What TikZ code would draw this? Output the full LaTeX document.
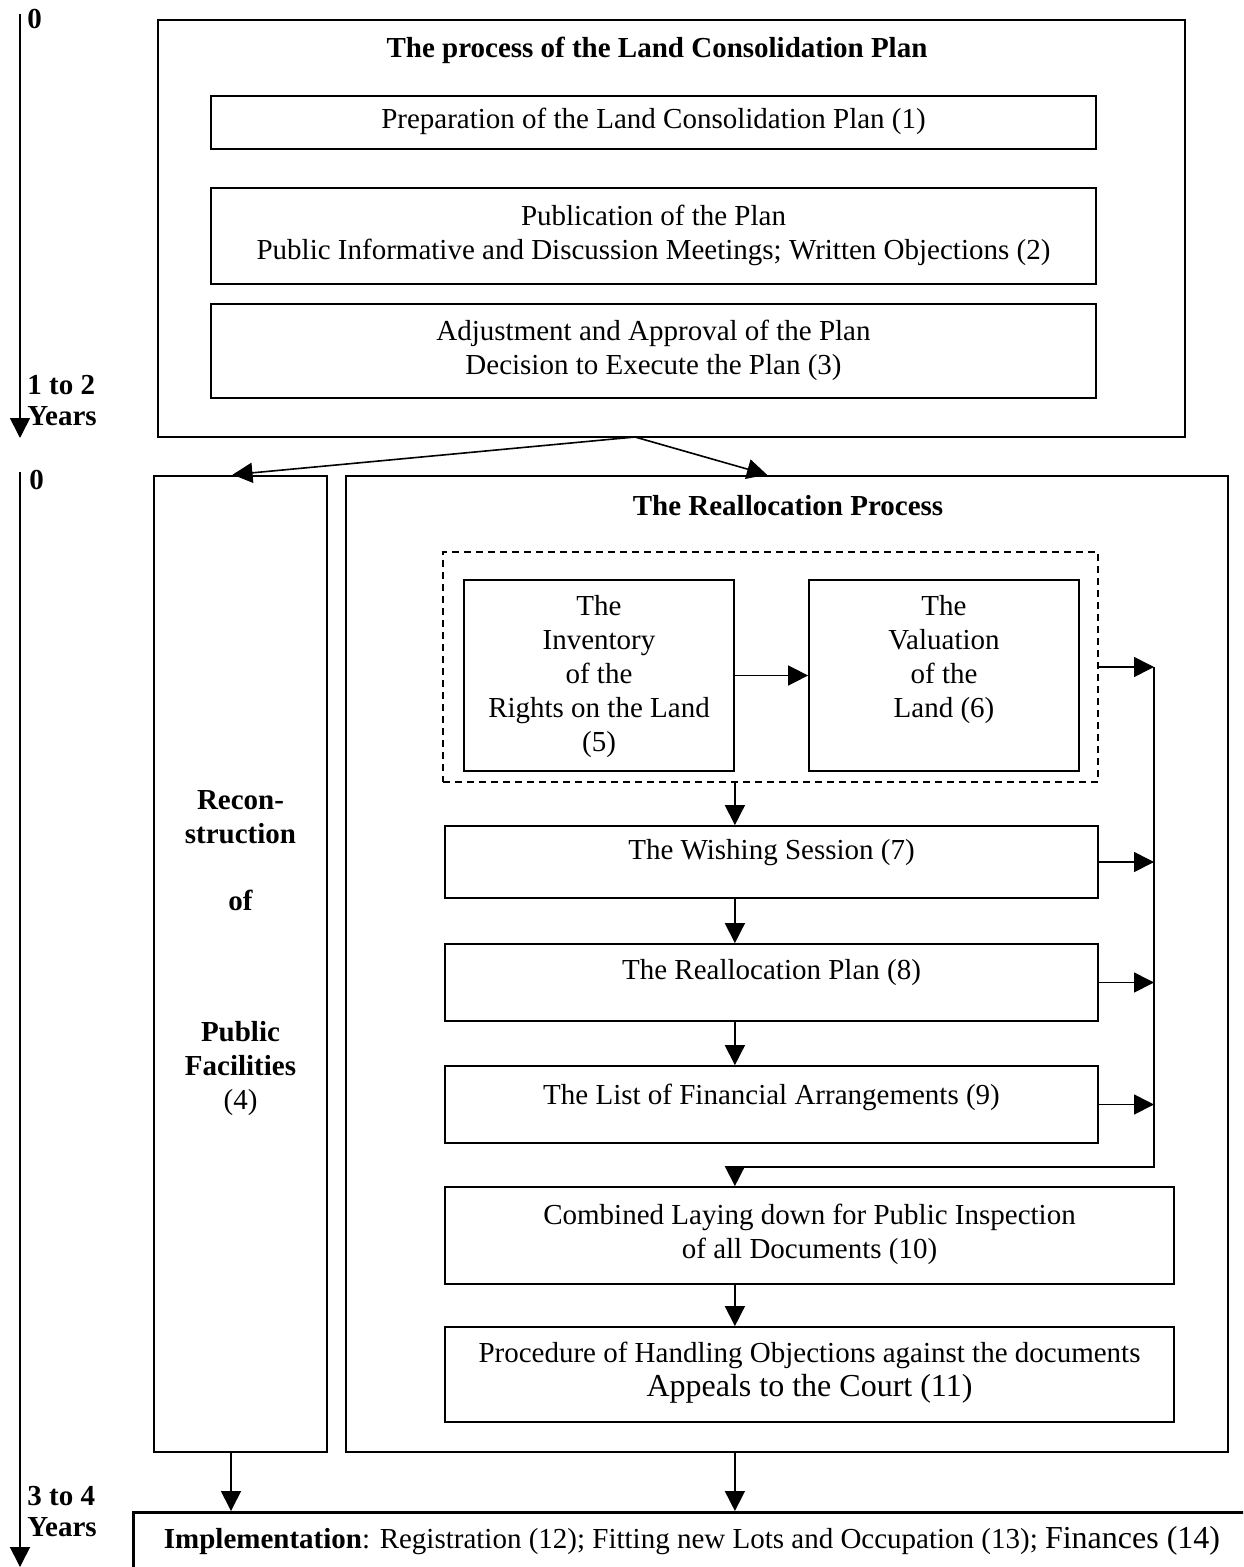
\documentclass[tikz,border=0pt]{standalone}
\usepackage{fontspec}
\setmainfont{Liberation Serif}
\usetikzlibrary{arrows.meta,calc}
\begin{document}
\begin{tikzpicture}[x=0.5pt,y=-0.5pt,
  outerbox/.style={draw,line width=1.3pt,inner sep=0pt},
  innerbox/.style={draw,line width=0.9pt,inner sep=0pt},
  dashbox/.style={draw,line width=0.8pt,dash pattern=on 3.5pt off 2.5pt,inner sep=0pt},
  arr/.style={line width=0.8pt,-{Triangle[length=10pt,width=10pt]}},
  plain/.style={line width=0.8pt},
  txt/.style={align=center,inner sep=0pt,font=\fontsize{14.5}{17}\selectfont},
  btxt/.style={align=center,inner sep=0pt,font=\fontsize{14.5}{17}\selectfont\bfseries},
  ltxt/.style={align=left,anchor=west,inner sep=0pt,font=\fontsize{14.5}{15.5}\selectfont\bfseries}]
\useasboundingbox (0,0) rectangle (1243,1567);
\clip (0,0) rectangle (1243,1567);
\fill[white] (0,0) rectangle (1243,1567);

% timeline
\coordinate (tla) at (20,14);
\coordinate (tlb) at (20,438);
\coordinate (tlc) at (20,472);
\coordinate (tld) at (20,1567);
\draw[arr] (tla) -- (tlb);
\draw[arr] (tlc) -- (tld);
\node[ltxt] (z1) at (27,19) {0};
\node[ltxt] (y12) at (27,401) {1 to 2\\Years};
\node[ltxt] (z2) at (29,480) {0};
\node[ltxt] (y34) at (27,1512) {3 to 4\\Years};

% top block
\node[outerbox,minimum width=513.5pt,minimum height=208.5pt] (top) at (671.5,228.5) {};
\node[btxt] (toptitle) at (657,50) {The process of the Land Consolidation Plan};
\node[innerbox,minimum width=442.5pt,minimum height=26.5pt] (b1) at (653.5,122.5) {};
\node[txt] (t1) at (653.5,121) {Preparation of the Land Consolidation Plan (1)};
\node[innerbox,minimum width=442.5pt,minimum height=48pt] (b2) at (653.5,236) {};
\node[txt] (t2) at (653.5,235) {Publication of the Plan\\Public Informative and Discussion Meetings; Written Objections (2)};
\node[innerbox,minimum width=442.5pt,minimum height=47pt] (b3) at (653.5,351) {};
\node[txt] (t3) at (653.5,350) {Adjustment and Approval of the Plan\\Decision to Execute the Plan (3)};

% left column
\node[outerbox,minimum width=86.5pt,minimum height=488pt] (lb) at (240.5,964) {};
\node[btxt] (t4a) at (240.5,817) {Recon-\\struction};
\node[btxt] (t4b) at (240.5,900) {of};
\node[txt] (t4c) at (240.5,1069) {\textbf{Public}\\\textbf{Facilities}\\(4)};

% right column
\node[outerbox,minimum width=441pt,minimum height=488pt] (rb) at (787,964) {};
\node[btxt] (rtitle) at (788,506) {The Reallocation Process};
\node[dashbox,minimum width=327.5pt,minimum height=115pt] (db) at (770.5,667) {};
\node[innerbox,minimum width=135pt,minimum height=95.5pt] (b5) at (599,675.5) {};
\node[txt] (t5) at (599,677) {The\\Inventory\\of the\\Rights on the Land\\(5)};
\node[innerbox,minimum width=135pt,minimum height=95.5pt] (b6) at (944,675.5) {};
\node[txt] (t6) at (944,660) {The\\Valuation\\of the\\Land (6)};
\node[innerbox,minimum width=326.5pt,minimum height=36pt] (b7) at (771.5,862) {};
\node[txt] (t7) at (771.5,853) {The Wishing Session (7)};
\node[innerbox,minimum width=326.5pt,minimum height=38.5pt] (b8) at (771.5,982.5) {};
\node[txt] (t8) at (771.5,973) {The Reallocation Plan (8)};
\node[innerbox,minimum width=326.5pt,minimum height=38.5pt] (b9) at (771.5,1104.5) {};
\node[txt] (t9) at (771.5,1097) {The List of Financial Arrangements (9)};
\node[innerbox,minimum width=364.5pt,minimum height=48.5pt] (b10) at (809.5,1235.5) {};
\node[txt] (t10) at (809.5,1234) {Combined Laying down for Public Inspection\\of all Documents (10)};
\node[innerbox,minimum width=364.5pt,minimum height=47.5pt] (b11) at (809.5,1374.5) {};
\node[txt] (t11) at (809.5,1373) {Procedure of Handling Objections against the documents\\{\fontsize{16}{17}\selectfont Appeals to the Court (11)}};

% implementation
\node[outerbox,minimum width=570pt,minimum height=60pt,anchor=north west] (impl) at (132,1511) {};
\node[txt] (timpl) at (692,1541) {\textbf{Implementation}: Registration (12); Fitting new Lots and Occupation (13); {\fontsize{16}{17}\selectfont Finances (14)}};

% connectors top
\coordinate (tsrc) at (635,437);
\draw[arr] (tsrc) -- ([xshift=-4pt]lb.north);
\draw[arr] (tsrc) -- ([xshift=-10pt]rb.north);

% inner arrows
\draw[arr] (b5.east) -- (b6.west);
\draw[arr] (db.south -| b5.east) -- (b7.north -| b5.east);
\draw[arr] (b7.south -| b5.east) -- (b8.north -| b5.east);
\draw[arr] (b8.south -| b5.east) -- (b9.north -| b5.east);
\draw[arr] (b10.south -| b5.east) -- (b11.north -| b5.east);

% collector bus on right
\coordinate (bus) at (1154,667);
\coordinate (busbot) at (1154,1167);
\draw[arr] (db.east) -- (bus);
\draw[arr] (b7.east) -- (b7.east -| bus);
\draw[arr] (b8.east) -- (b8.east -| bus);
\draw[arr] (b9.east) -- (b9.east -| bus);
\draw[plain] (bus) -- (busbot) -- (busbot -| b5.east);
\draw[arr] (busbot -| b5.east) -- (b10.north -| b5.east);

% bottom arrows
\coordinate (lcol) at (231,0);
\draw[arr] (lb.south -| lcol) -- (impl.north -| lcol);
\draw[arr] (rb.south -| b5.east) -- (impl.north -| b5.east);
\end{tikzpicture}
\end{document}
